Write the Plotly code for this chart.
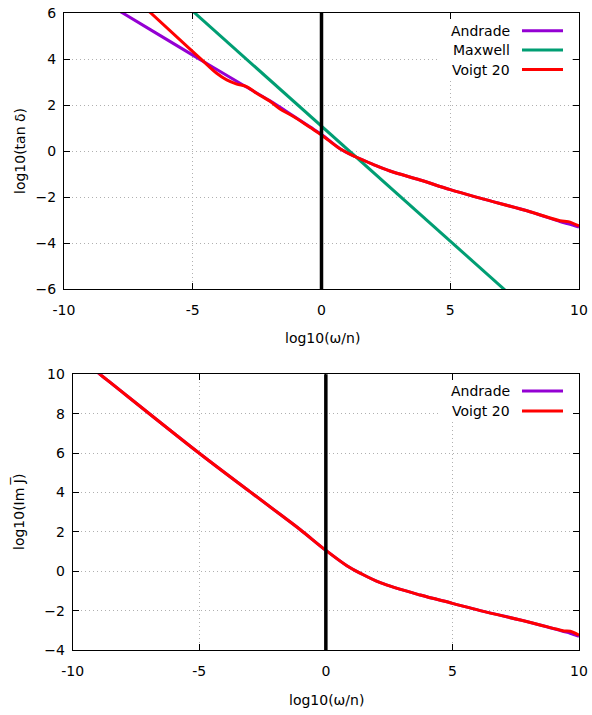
import plotly.graph_objects as go

# ---------------- data ----------------
# Top panel: log10(tan delta) vs log10(omega/n)
andrade_tan_x = [-10, -7.72, -5, -4, -3, -2, -1.09, -0.45, 0, 0.72, 1.3, 2.0, 2.66, 3.83, 5, 6.16, 8.1, 9.26, 9.58, 10]
andrade_tan_y = [7.53, 6.0, 4.17, 3.50, 2.84, 2.18, 1.52, 1.05, 0.72, 0.10, -0.24, -0.58, -0.87, -1.26, -1.68, -2.05, -2.64, -3.07, -3.17, -3.31]

maxwell_tan_x = [-10, 10]
maxwell_tan_y = [11.08, -8.92]

voigt_tan_x = [-10, -6.63, -5, -4.46, -4.07, -3.68, -3.29, -2.91, -2.52, -2.0, -1.61, -1.09, -0.45, 0,
               0.72, 1.3, 2.0, 2.66, 3.83, 5, 6.16, 8.1, 9.26, 9.58, 10]
voigt_tan_y = [9.47, 6.0, 4.32, 3.77, 3.38, 3.09, 2.91, 2.80, 2.51, 2.16, 1.83, 1.50, 1.03, 0.70,
               0.10, -0.24, -0.58, -0.87, -1.26, -1.68, -2.05, -2.64, -3.03, -3.07, -3.26]

# Bottom panel: log10(Im J) vs log10(omega/n)
andrade_im_x = [-10, -8.92, -5, -3, -1.81, -1.02, 0, 0.83, 1.36, 2.15, 3.73, 5, 6.1, 8.08, 9.13, 9.4, 9.65, 10]
andrade_im_y = [11.1, 10, 5.99, 4.04, 2.89, 2.12, 1.06, 0.28, -0.10, -0.58, -1.21, -1.63, -2.0, -2.6, -2.96, -3.06, -3.15, -3.30]

voigt_im_x = [-10, -8.92, -5, -3, -1.81, -1.02, 0, 0.83, 1.36, 2.15, 3.73, 5, 6.1, 8.08, 9.13, 9.4, 9.65, 10]
voigt_im_y = [11.1, 10, 5.99, 4.04, 2.89, 2.12, 1.06, 0.28, -0.10, -0.58, -1.21, -1.63, -2.0, -2.6, -2.95, -3.03, -3.05, -3.25]

ref_line_x = 0.0

x_ticks = [-10, -5, 0, 5, 10]
x_tick_text = ["-10", "-5", "0", "5", "10"]
y_top_ticks = [-6, -4, -2, 0, 2, 4, 6]
y_bot_ticks = [-4, -2, 0, 2, 4, 6, 8, 10]

top_names = ["Andrade", "Maxwell", "Voigt 20"]
bot_names = ["Andrade", "Voigt 20"]

# ---------------- styling ----------------
C_AND = "#9400d3"
C_MAX = "#009e73"
C_VOI = "#ff0000"
FONT = "DejaVu Sans"
FS = 14
W, H = 592, 715


def px(xp):
    return xp / W


def py(yp):
    return 1 - yp / H


fig = go.Figure()

line_kw = dict(width=3)
fig.add_trace(go.Scatter(x=andrade_tan_x, y=andrade_tan_y, mode="lines", line=dict(color=C_AND, shape="spline", **line_kw),
                         xaxis="x", yaxis="y", showlegend=False))
fig.add_trace(go.Scatter(x=maxwell_tan_x, y=maxwell_tan_y, mode="lines", line=dict(color=C_MAX, **line_kw),
                         xaxis="x", yaxis="y", showlegend=False))
fig.add_trace(go.Scatter(x=voigt_tan_x, y=voigt_tan_y, mode="lines", line=dict(color=C_VOI, shape="spline", **line_kw),
                         xaxis="x", yaxis="y", showlegend=False))

fig.add_trace(go.Scatter(x=andrade_im_x, y=andrade_im_y, mode="lines", line=dict(color=C_AND, shape="spline", **line_kw),
                         xaxis="x2", yaxis="y2", showlegend=False))
fig.add_trace(go.Scatter(x=voigt_im_x, y=voigt_im_y, mode="lines", line=dict(color=C_VOI, shape="spline", **line_kw),
                         xaxis="x2", yaxis="y2", showlegend=False))

axis_common = dict(
    showline=True, linecolor="black", linewidth=1, mirror="allticks",
    ticks="inside", ticklen=6, tickcolor="black", tickwidth=1,
    showgrid=True, gridcolor="#b0b0b0", griddash="1px,3px", gridwidth=1,
    zeroline=False, automargin=False, ticklabeloverflow="allow",
    tickfont=dict(family=FONT, size=FS, color="black"),
)

fig.update_layout(
    template="none",
    width=W, height=H,
    margin=dict(l=0, r=0, t=0, b=0, autoexpand=False),
    paper_bgcolor="white", plot_bgcolor="white",
    font=dict(family=FONT, size=FS, color="black"),
    xaxis=dict(domain=[px(64), px(579)], range=[-10, 10], tickvals=x_ticks, ticktext=x_tick_text,
               anchor="y", ticklabelstandoff=8, **axis_common),
    yaxis=dict(domain=[py(289), py(13)], range=[-6, 6], tickvals=y_top_ticks,
               anchor="x", ticklabelstandoff=4, **axis_common),
    xaxis2=dict(domain=[px(72.7), px(579)], range=[-10, 10], tickvals=x_ticks, ticktext=x_tick_text,
                anchor="y2", ticklabelstandoff=8, **axis_common),
    yaxis2=dict(domain=[py(650), py(374.3)], range=[-4, 10], tickvals=y_bot_ticks,
                anchor="x2", ticklabelstandoff=4, **axis_common),
)

shapes = []
# key boxes (hide grid behind the key); no curve passes through these regions
shapes.append(dict(type="rect", xref="paper", yref="paper", x0=px(440), x1=px(571), y0=py(80), y1=py(20),
                   fillcolor="white", line=dict(width=0), layer="above"))
shapes.append(dict(type="rect", xref="paper", yref="paper", x0=px(440), x1=px(571), y0=py(422), y1=py(381),
                   fillcolor="white", line=dict(width=0), layer="above"))
# reference vertical lines at log10(omega/n) = 0
shapes.append(dict(type="line", xref="x", yref="y domain", x0=ref_line_x, x1=ref_line_x, y0=0, y1=1,
                   line=dict(color="black", width=3.5), layer="above"))
shapes.append(dict(type="line", xref="x2", yref="y2 domain", x0=ref_line_x, x1=ref_line_x, y0=0, y1=1,
                   line=dict(color="black", width=3.5), layer="above"))

annotations = []
top_colors = [C_AND, C_MAX, C_VOI]
top_rows = [30.7, 50.0, 69.5]
for name, col, yr in zip(top_names, top_colors, top_rows):
    annotations.append(dict(x=px(512), y=py(yr), xref="paper", yref="paper", text=name, showarrow=False,
                            xanchor="right", yanchor="middle", font=dict(family=FONT, size=FS, color="black")))
    shapes.append(dict(type="line", xref="paper", yref="paper", x0=px(522), x1=px(563), y0=py(yr), y1=py(yr),
                       line=dict(color=col, width=3), layer="above"))
bot_colors = [C_AND, C_VOI]
bot_rows = [391.0, 411.0]
for name, col, yr in zip(bot_names, bot_colors, bot_rows):
    annotations.append(dict(x=px(512), y=py(yr), xref="paper", yref="paper", text=name, showarrow=False,
                            xanchor="right", yanchor="middle", font=dict(family=FONT, size=FS, color="black")))
    shapes.append(dict(type="line", xref="paper", yref="paper", x0=px(522), x1=px(563), y0=py(yr), y1=py(yr),
                       line=dict(color=col, width=3), layer="above"))

# axis titles
annotations.append(dict(x=px(322), y=py(338), xref="paper", yref="paper", text="log10(ω/n)", showarrow=False,
                        xanchor="center", yanchor="middle", font=dict(family=FONT, size=FS)))
annotations.append(dict(x=px(326), y=py(700), xref="paper", yref="paper", text="log10(ω/n)", showarrow=False,
                        xanchor="center", yanchor="middle", font=dict(family=FONT, size=FS)))
annotations.append(dict(x=px(20), y=py(151), xref="paper", yref="paper", text="log10(tan δ)", showarrow=False,
                        textangle=-90, xanchor="center", yanchor="middle", font=dict(family=FONT, size=FS)))
annotations.append(dict(x=px(18), y=py(512), xref="paper", yref="paper", text="log10(Im J\u0305)", showarrow=False,
                        textangle=-90, xanchor="center", yanchor="middle", font=dict(family=FONT, size=FS)))

fig.update_layout(shapes=shapes, annotations=annotations)

fig.write_html("out.html", config={"displayModeBar": False},
               post_script="document.body.style.margin='0';document.body.style.overflow='hidden';")
